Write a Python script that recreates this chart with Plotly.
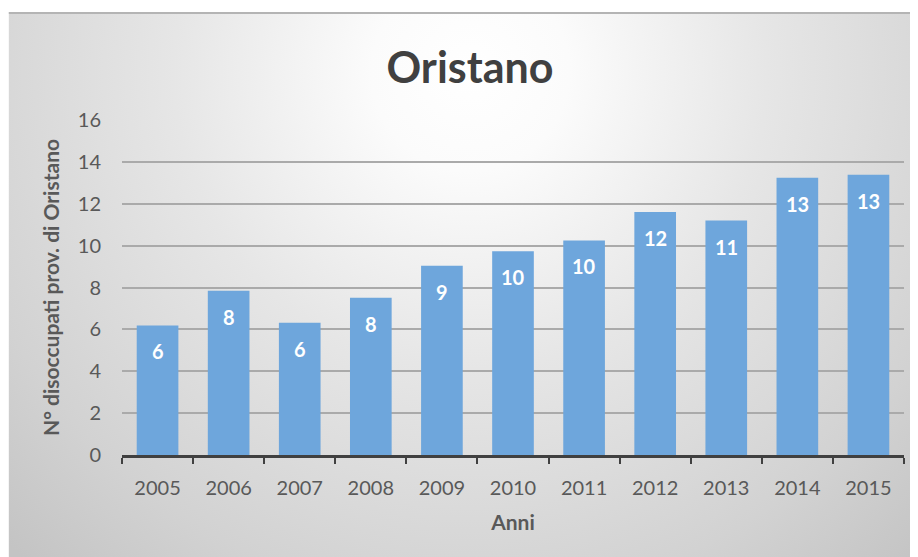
import plotly.graph_objects as go
import base64

years = ["2005", "2006", "2007", "2008", "2009", "2010", "2011", "2012", "2013", "2014", "2015"]
values = [6.19, 7.85, 6.32, 7.51, 9.04, 9.73, 10.25, 11.61, 11.20, 13.24, 13.38]
labels = [str(int(round(v))) for v in values]
y_ticks = [0, 2, 4, 6, 8, 10, 12, 14, 16]

W, H = 918, 557
L, R, T, B = 113.5, 22, 112, 110
pw, ph = W - L - R, H - T - B

svg = """<svg xmlns='http://www.w3.org/2000/svg' width='918' height='553' viewBox='0 0 918 553' preserveAspectRatio='none'>
<defs><radialGradient id='g' gradientUnits='userSpaceOnUse' cx='462' cy='60' r='660'>
<stop offset='0' stop-color='#ffffff'/><stop offset='0.15' stop-color='#fbfbfb'/>
<stop offset='0.45' stop-color='#e6e6e6'/><stop offset='0.8' stop-color='#d2d2d2'/>
<stop offset='1' stop-color='#c4c4c4'/></radialGradient></defs>
<rect x='0' y='0' width='918' height='553' fill='url(#g)'/>
<rect x='0' y='0' width='918' height='2' fill='#b4b4b4'/>
</svg>"""
uri = "data:image/svg+xml;base64," + base64.b64encode(svg.encode()).decode()

font = "Lato"
fig = go.Figure()
fig.add_trace(go.Bar(x=years, y=values, marker=dict(color="#6ea6dc", line=dict(width=0)),
                     width=0.586, hoverinfo="x+y"))

# category axis: annotation x given as category index
for i, (v, lab) in enumerate(zip(values, labels)):
    fig.add_annotation(x=i, y=v, xref="x", yref="y", text=lab, showarrow=False, yshift=-26,
                       font=dict(family=font, size=20, color="white", weight="bold"))

fig.add_layout_image(dict(source=uri, xref="paper", yref="paper",
                          x=(0 - L) / pw, y=(H - B - 4) / ph, sizex=918 / pw, sizey=553 / ph,
                          sizing="stretch", xanchor="left", yanchor="top", layer="below"))

fig.update_layout(
    width=W, height=H,
    margin=dict(l=L, r=R, t=T, b=B),
    paper_bgcolor="white", plot_bgcolor="rgba(0,0,0,0)",
    title=dict(text="Oristano", x=462 / W, xanchor="center", y=1 - 60 / H, yanchor="middle",
               font=dict(family=font, size=43, color="#404040", weight="bold")),
    showlegend=False,
    bargap=0.414,
    xaxis=dict(type="category", categoryorder="array", categoryarray=years,
               range=[-0.5, len(years) - 0.5],
               tickson="boundaries", ticks="outside", ticklen=6, tickwidth=2,
               tickcolor="#404040", showline=True, linecolor="#404040", linewidth=3,
               showgrid=False, tickfont=dict(family=font, size=20, color="#595959"),
               ticklabelstandoff=13, tickangle=0,
               title=dict(text="Anni", standoff=18,
                          font=dict(family=font, size=21, color="#595959", weight="bold"))),
    yaxis=dict(range=[0, 16], tickvals=y_ticks, showgrid=True, gridcolor="#aaaaaa", gridwidth=1.5,
               zeroline=False, showline=False, ticks="",
               tickfont=dict(family=font, size=20, color="#595959"), ticklabelstandoff=20,
               title=dict(text="N° disoccupati prov. di Oristano", standoff=12,
                          font=dict(family=font, size=21, color="#595959", weight="bold"))),
)

fig.write_html("out.html")
